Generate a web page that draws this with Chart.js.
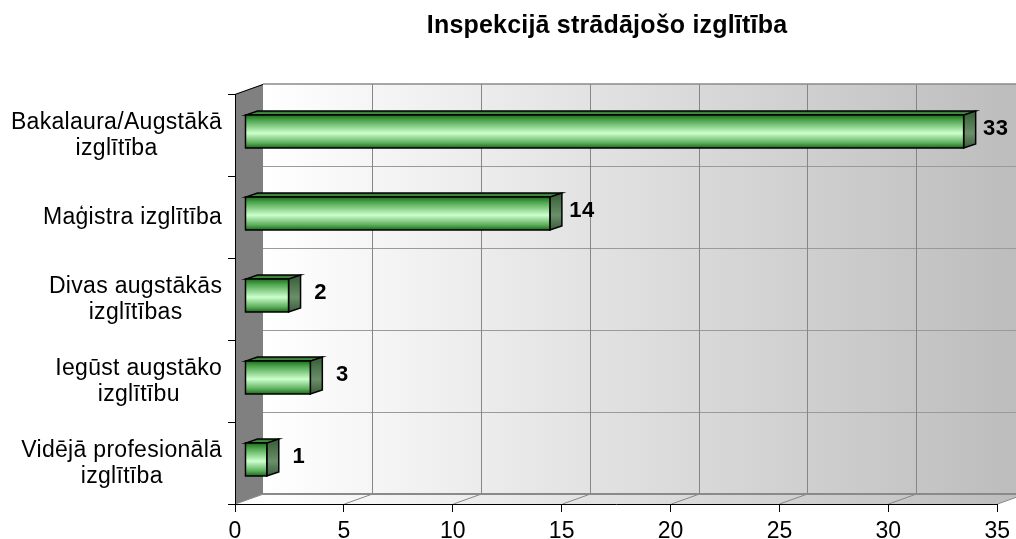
<!DOCTYPE html>
<html><head><meta charset="utf-8">
<script src="https://cdn.jsdelivr.net/npm/chart.js@4"></script>
<style>html,body{margin:0;padding:0;background:#fff;overflow:hidden}</style>
</head><body>
<canvas id="c" width="1016" height="539"></canvas>
<script>
const categories = [["Bakalaura/Augstākā","izglītība"],["Maģistra izglītība"],["Divas augstākās","izglītības"],["Iegūst augstāko","izglītību"],["Vidējā profesionālā","izglītība"]];
const values = [33, 14, 2, 3, 1];
const xTicks = [0, 5, 10, 15, 20, 25, 30, 35];
const titleText = "Inspekcijā strādājošo izglītība";

const FONT = "'Liberation Sans', Arial, sans-serif";
const TITLE_SPACING = '0.2px';
const DX = 28, DY = -10;          // depth of the walls
const BFX = 10, BFY = -3.5;       // bar front-face offset
const BDX = 12, BDY = -4;         // bar depth

function poly(ctx, pts, fill, stroke, lw) {
  ctx.beginPath();
  ctx.moveTo(pts[0][0], pts[0][1]);
  for (let i = 1; i < pts.length; i++) ctx.lineTo(pts[i][0], pts[i][1]);
  ctx.closePath();
  if (fill) { ctx.fillStyle = fill; ctx.fill(); }
  if (stroke) { ctx.strokeStyle = stroke; ctx.lineWidth = lw || 1; ctx.stroke(); }
}
function line(ctx, x1, y1, x2, y2) {
  ctx.beginPath(); ctx.moveTo(x1, y1); ctx.lineTo(x2, y2); ctx.stroke();
}

const plugin3d = {
  id: 'threeD',
  beforeLayout(chart) { chart.ctx.letterSpacing = '0px'; },
  beforeDraw(chart) {
    const ctx = chart.ctx, xs = chart.scales.x, ys = chart.scales.y, ca = chart.chartArea;
    ctx.save();
    ctx.fillStyle = '#fff'; ctx.fillRect(0, 0, chart.width, chart.height);
    const L = ca.left, R = ca.right, T = ca.top, B = ca.bottom;
    const g = ctx.createLinearGradient(L + DX, 0, R + DX, 0);
    g.addColorStop(0, '#ffffff'); g.addColorStop(1, '#bcbcbc');
    // back wall
    ctx.fillStyle = g; ctx.fillRect(L + DX, T + DY, R - L, B - T);
    // floor
    poly(ctx, [[L, B], [R, B], [R + DX, B + DY], [L + DX, B + DY]], g);
    // back wall horizontal lines
    ctx.strokeStyle = '#9a9a9a'; ctx.lineWidth = 1;
    for (let i = 1; i < categories.length; i++) {
      const py = Math.round(ys.getPixelForValue(i - 0.5) + DY) + 0.5;
      line(ctx, L + DX, py, R + DX, py);
    }
    // vertical gridlines + floor diagonals
    ctx.strokeStyle = '#868686';
    xTicks.forEach(v => {
      const px = Math.round(xs.getPixelForValue(v)) + 0.5;
      if (v > 0) line(ctx, px + DX, T + DY, px + DX, B + DY);
      line(ctx, px, B, px + DX, B + DY);
    });
    // back wall top and bottom edges
    ctx.strokeStyle = '#8a8a8a'; ctx.lineWidth = 1.5;
    line(ctx, L + DX, T + DY, R + DX + 2, T + DY);
    ctx.lineWidth = 2;
    line(ctx, L + DX, B + DY, R + DX + 2, B + DY);
    // left wall
    poly(ctx, [[L, T], [L + DX, T + DY], [L + DX, B + DY], [L, B]], '#808080');
    ctx.strokeStyle = '#000'; ctx.lineWidth = 1;
    line(ctx, L, T + 0.5, L + DX, T + DY + 0.5);
    ctx.restore();
    ctx.letterSpacing = TITLE_SPACING;   // used by the title layer
  },
  afterDatasetsDraw(chart) {
    const ctx = chart.ctx;
    const meta = chart.getDatasetMeta(0);
    ctx.save();
    meta.data.forEach((el, i) => {
      const p = el.getProps(['x', 'y', 'base', 'height'], true);
      const fx0 = p.base + BFX, fx1 = p.x + BFX;
      const fy0 = p.y - p.height / 2 + BFY, fy1 = p.y + p.height / 2 + BFY;
      // top face
      const tg = ctx.createLinearGradient(0, fy0 + BDY, 0, fy0);
      tg.addColorStop(0, '#2f6f2f'); tg.addColorStop(1, '#4f9a4f');
      poly(ctx, [[fx0, fy0], [fx0 + BDX, fy0 + BDY], [fx1 + BDX, fy0 + BDY], [fx1, fy0]], tg, '#000', 1.5);
      // side face
      const sg = ctx.createLinearGradient(0, fy0, 0, fy1);
      sg.addColorStop(0, '#3e663e'); sg.addColorStop(0.55, '#6a8f6a'); sg.addColorStop(1, '#3a5c3a');
      poly(ctx, [[fx1, fy0], [fx1 + BDX, fy0 + BDY], [fx1 + BDX, fy1 + BDY], [fx1, fy1]], sg, '#000', 1.5);
      // front face
      const fg = ctx.createLinearGradient(0, fy0, 0, fy1);
      fg.addColorStop(0, '#1e6e1e'); fg.addColorStop(0.15, '#4aa34a'); fg.addColorStop(0.55, '#ccffcc');
      fg.addColorStop(0.85, '#5cae5c'); fg.addColorStop(1, '#1c6a1c');
      poly(ctx, [[fx0, fy0], [fx1, fy0], [fx1, fy1], [fx0, fy1]], fg, '#000', 1.5);
      // value label
      ctx.fillStyle = '#000';
      ctx.font = 'bold 22px ' + FONT;
      ctx.letterSpacing = '0.3px';
      ctx.textAlign = 'center'; ctx.textBaseline = 'middle';
      ctx.fillText(String(values[i]), p.x + 42, p.y - 6);
    });
    ctx.restore();
    ctx.letterSpacing = '0px';   // for the x tick labels layer (z:1)
  },
  afterDraw(chart) {
    const ctx = chart.ctx, ys = chart.scales.y;
    ctx.save();
    ctx.font = '23px ' + FONT;
    ctx.letterSpacing = '0.3px';
    ctx.fillStyle = '#000';
    ctx.textAlign = 'center'; ctx.textBaseline = 'middle';
    categories.forEach((lines, i) => {
      const cy = ys.getPixelForValue(i);
      const maxW = Math.max(...lines.map(s => ctx.measureText(s).width));
      const cx = 222.2 - maxW / 2;
      lines.forEach((s, j) => {
        ctx.fillText(s, cx, cy + 0.5 + (j - (lines.length - 1) / 2) * 26);
      });
    });
    ctx.restore();
  }
};

new Chart(document.getElementById('c'), {
  type: 'bar',
  data: {
    labels: categories,
    datasets: [{
      data: values,
      backgroundColor: 'rgba(0,0,0,0)',
      borderWidth: 0,
      barPercentage: 0.4,
      categoryPercentage: 1.0
    }]
  },
  plugins: [plugin3d],
  options: {
    indexAxis: 'y',
    responsive: false,
    animation: false,
    devicePixelRatio: 1,
    layout: { padding: { left: 214, right: 16, top: 0, bottom: 0 } },
    plugins: {
      legend: { display: false },
      tooltip: { enabled: false },
      title: {
        display: true, text: titleText, color: '#000',
        font: { family: FONT, size: 25, weight: 'bold' },
        padding: { top: 11, bottom: 53 }
      }
    },
    scales: {
      x: {
        type: 'linear', min: 0, max: 35,
        afterBuildTicks: s => { s.ticks = xTicks.map(v => ({ value: v })); },
        afterFit: s => { s.height = 35; },
        grid: { drawOnChartArea: false, tickLength: 8, color: '#000' },
        border: { display: true, color: '#000', width: 1 },
        ticks: { z: 1, padding: 6, color: '#000', font: { family: FONT, size: 23 }, maxRotation: 0, autoSkip: false }
      },
      y: {
        type: 'category',
        afterFit: s => { s.width = 21; },
        grid: { offset: true, drawOnChartArea: false, tickLength: 7, color: '#000' },
        border: { display: true, color: '#000', width: 1 },
        ticks: { display: false }
      }
    }
  }
});
</script>
</body></html>
